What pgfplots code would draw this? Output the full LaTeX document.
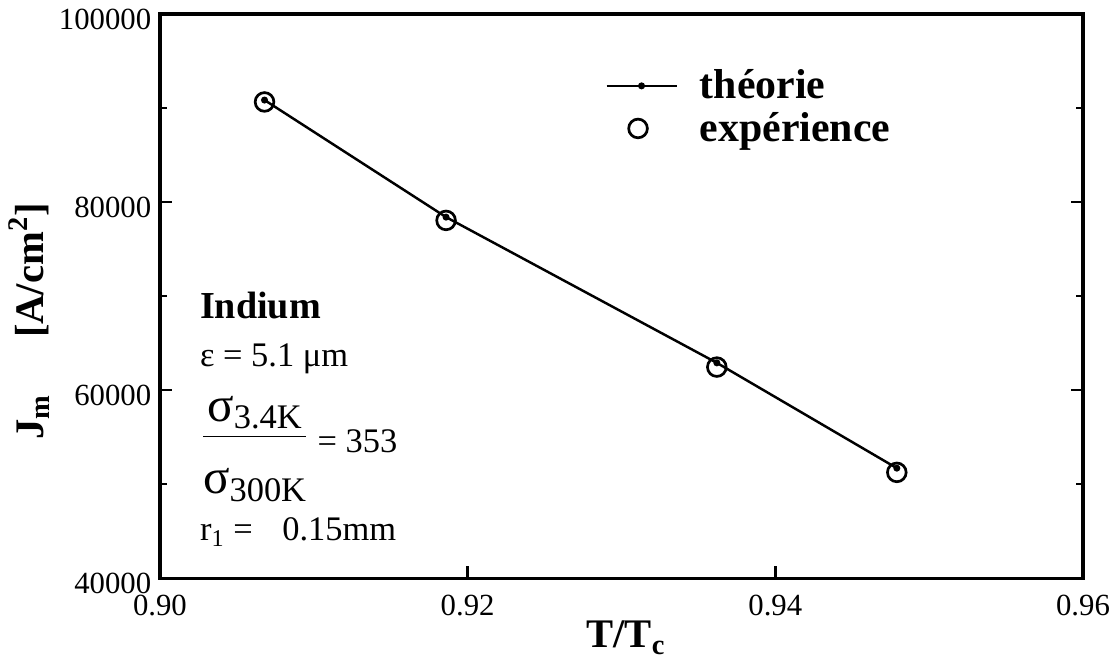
\documentclass[border=0pt]{standalone}
\usepackage{fontspec}
\setmainfont{Liberation Serif}
\usepackage{pgfplots}
\pgfplotsset{compat=1.18}
\pgfplotsset{
  theory legend/.style={legend image code/.code={%
    \draw[mark repeat=2,mark phase=2,##1] plot coordinates {(0cm,0cm)(0.5cm,0cm)(1cm,0cm)};}},
  point legend/.style={legend image code/.code={%
    \draw[##1] plot coordinates {(0.45cm,0cm)};}},
}
\newcommand{\bigsigma}{{\fontsize{20}{20}\selectfont σ}}

\begin{document}
\begin{tikzpicture}
\path[use as bounding box] (-65pt,-32.5pt) rectangle (387.4pt,235.0pt);
\begin{axis}[
  at={(0,0)}, anchor=south west,
  scale only axis, width=375.2pt, height=229.3pt,
  xmin=0.90, xmax=0.96, ymin=40000, ymax=100000,
  scaled x ticks=false, scaled y ticks=false,
  xtick={0.90,0.92,0.94,0.96}, xticklabels={0.90,0.92,0.94,0.96},
  ytick={40000,60000,80000,100000}, yticklabels={40000,60000,80000,100000},
  minor ytick={50000,70000,90000},
  xtick pos=left, ytick pos=both, tick align=inside,
  major tick length=5pt, minor tick length=3pt,
  axis line style={line width=1.3pt},
  every tick/.style={line width=1.1pt, black},
  tick label style={font=\fontsize{12.5}{12.5}\selectfont},
  xticklabel style={yshift=-3.5pt},
  yticklabel style={yshift=-2pt},
  /pgf/number format/assume math mode=true,
  xlabel={T/T\textsubscript{c}},
  ylabel={J\textsubscript{m}\hspace{1.4em}[A/cm\textsuperscript{2}]},
  label style={font=\bfseries\fontsize{16.5}{16.5}\selectfont},
  xlabel style={at={(ticklabel cs:0.505)}, anchor=north, yshift=5pt},
  ylabel style={at={(ticklabel cs:0.455)}, yshift=-3pt},
  legend cell align=left,
  legend style={draw=none, fill=none, at={(0.474,0.92)}, anchor=north west,
    font=\bfseries\fontsize{17}{18}\selectfont, row sep=0pt,
    /tikz/every odd column/.append style={column sep=7pt}},
  clip=false,
]
% theoretical curve
\addplot[black, line width=1pt, mark=*, mark size=0.9pt, theory legend]
  coordinates {(0.9068,90850) (0.9186,78400) (0.9362,62900) (0.9479,51700)};
\addlegendentry{théorie}
% measured points
\addplot[black, only marks, mark=o, mark size=3.8pt, mark options={line width=1.1pt}, point legend]
  coordinates {(0.9068,90650) (0.9186,78050) (0.9362,62450) (0.9479,51250)};
\addlegendentry{expérience}

% sample parameters
\node[anchor=base west, inner sep=0pt, font=\bfseries\fontsize{15.5}{15.5}\selectfont]
  at (rel axis cs:0.043,0.461) {Indium};
\node[anchor=base west, inner sep=0pt, font=\fontsize{14}{14}\selectfont]
  at (rel axis cs:0.043,0.376) {ε = 5.1 μm};
\node[anchor=base west, inner sep=0pt, font=\fontsize{14}{14}\selectfont]
  at (rel axis cs:0.043,0.236)
  {$\displaystyle\frac{\mbox{\bigsigma\raisebox{-0.5ex}{3.4K}}}{\mbox{\rule{0pt}{22pt}\bigsigma\raisebox{-0.5ex}{300K}}}$\raisebox{-3pt}{ = 353}};
\node[anchor=base west, inner sep=0pt, font=\fontsize{14}{14}\selectfont]
  at (rel axis cs:0.043,0.066) {r\textsubscript{1} =\hspace{12pt}0.15mm};
\end{axis}
\end{tikzpicture}
\end{document}
